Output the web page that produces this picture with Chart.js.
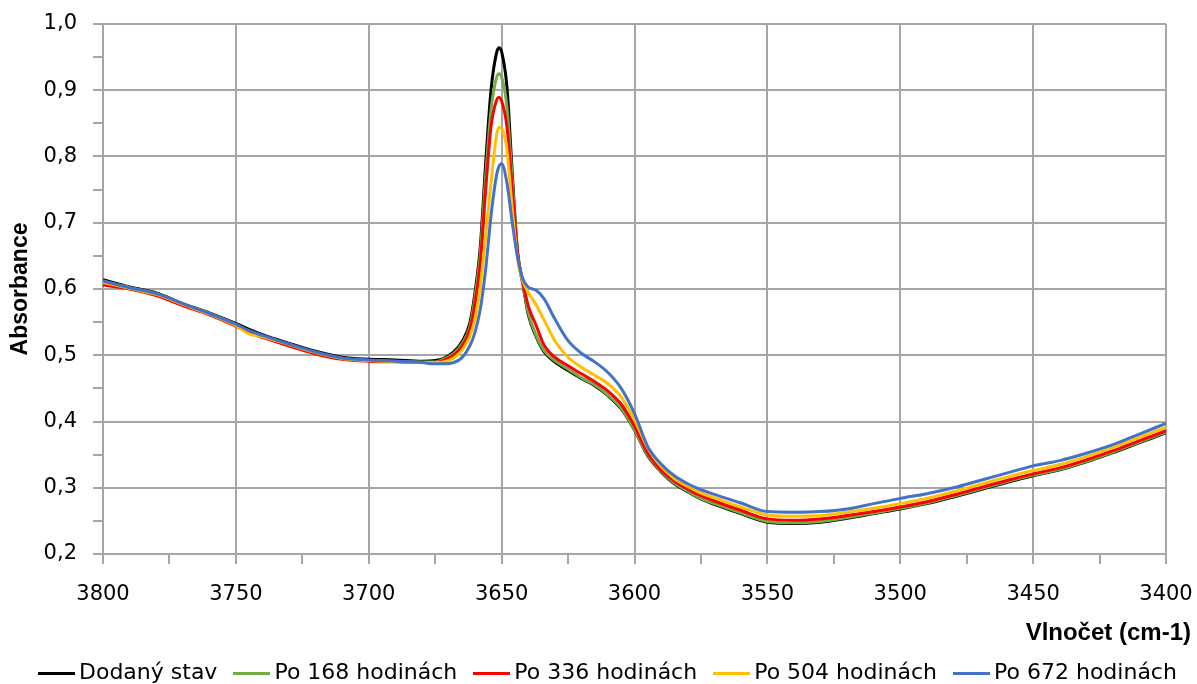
<!DOCTYPE html>
<html>
<head>
<meta charset="utf-8">
<script src="https://cdn.jsdelivr.net/npm/chart.js@4.4.0/dist/chart.umd.min.js"></script>
<style>
  html, body { margin: 0; padding: 0; background: #fff; }
  #wrap { width: 1197px; height: 684px; position: relative; overflow: hidden; }
  #xtitle {
    position: absolute; right: 6px; top: 618px; line-height: 24px;
    font: bold 24px 'Liberation Sans', Arial, sans-serif; color: #000; white-space: nowrap;
  }
  #legend {
    position: absolute; left: 38px; top: 659px; line-height: 22px;
    font: 22px 'DejaVu Sans', sans-serif; color: #000; white-space: nowrap;
  }
  .lg-item { display: inline-block; margin-right: 16px; }
  .lg-line { display: inline-block; width: 37px; height: 3px; margin-right: 4px; vertical-align: middle; }
</style>
</head>
<body>
<div id="wrap">
  <canvas id="chart"></canvas>
  <div id="xtitle">Vlnočet (cm-1)</div>
  <div id="legend"></div>
</div>
<script>
// vlnočty (cm-1)
const wavenumbers = [3800, 3790, 3780, 3770, 3760, 3750, 3745, 3740, 3730, 3720,
  3710, 3700, 3690, 3680, 3675, 3672, 3668, 3665, 3662, 3660,
  3658, 3656, 3654, 3652, 3651, 3650, 3648, 3646, 3644, 3642,
  3640, 3637, 3634, 3630, 3625, 3620, 3615, 3610, 3605, 3600,
  3595, 3590, 3585, 3580, 3575, 3570, 3560, 3550, 3540, 3530,
  3520, 3510, 3500, 3490, 3480, 3470, 3460, 3450, 3440, 3430,
  3420, 3410, 3400];

const dodanyStav = [0.614, 0.603, 0.594, 0.578, 0.564, 0.548, 0.539, 0.531, 0.518, 0.506,
  0.497, 0.494, 0.493, 0.491, 0.492, 0.495, 0.505, 0.520, 0.548, 0.595,
  0.665, 0.790, 0.900, 0.955, 0.964, 0.958, 0.905, 0.775, 0.655, 0.607,
  0.562, 0.528, 0.505, 0.490, 0.477, 0.465, 0.454, 0.439, 0.419, 0.387,
  0.348, 0.324, 0.306, 0.294, 0.283, 0.275, 0.261, 0.248, 0.246, 0.248,
  0.254, 0.261, 0.268, 0.276, 0.286, 0.297, 0.308, 0.318, 0.327, 0.339,
  0.353, 0.368, 0.383];

const po168 = [0.612, 0.602, 0.593, 0.577, 0.563, 0.546, 0.536, 0.529, 0.516, 0.504,
  0.495, 0.492, 0.491, 0.490, 0.490, 0.494, 0.503, 0.517, 0.543, 0.588,
  0.655, 0.770, 0.870, 0.918, 0.925, 0.920, 0.875, 0.765, 0.655, 0.608,
  0.565, 0.530, 0.507, 0.492, 0.479, 0.466, 0.455, 0.440, 0.420, 0.388,
  0.349, 0.325, 0.307, 0.295, 0.284, 0.276, 0.262, 0.249, 0.247, 0.249,
  0.255, 0.262, 0.269, 0.277, 0.287, 0.298, 0.309, 0.319, 0.328, 0.340,
  0.354, 0.369, 0.384];

const po336 = [0.606, 0.600, 0.590, 0.575, 0.561, 0.544, 0.534, 0.527, 0.514, 0.502,
  0.494, 0.491, 0.490, 0.489, 0.489, 0.492, 0.500, 0.513, 0.538, 0.578,
  0.640, 0.750, 0.845, 0.884, 0.889, 0.884, 0.845, 0.750, 0.655, 0.610,
  0.575, 0.545, 0.515, 0.497, 0.484, 0.472, 0.460, 0.446, 0.426, 0.393,
  0.352, 0.327, 0.310, 0.298, 0.288, 0.280, 0.266, 0.253, 0.251, 0.253,
  0.258, 0.264, 0.271, 0.279, 0.289, 0.300, 0.311, 0.321, 0.330, 0.342,
  0.356, 0.371, 0.386];

const po504 = [0.610, 0.601, 0.592, 0.577, 0.562, 0.545, 0.532, 0.528, 0.516, 0.504,
  0.495, 0.492, 0.490, 0.489, 0.489, 0.490, 0.496, 0.507, 0.528, 0.555,
  0.605, 0.680, 0.760, 0.830, 0.844, 0.842, 0.810, 0.720, 0.645, 0.612,
  0.595, 0.576, 0.553, 0.522, 0.497, 0.482, 0.470, 0.457, 0.437, 0.403,
  0.360, 0.332, 0.314, 0.302, 0.292, 0.285, 0.271, 0.259, 0.257, 0.258,
  0.263, 0.269, 0.276, 0.284, 0.294, 0.305, 0.316, 0.326, 0.335, 0.347,
  0.361, 0.376, 0.391];

const po672 = [0.612, 0.602, 0.593, 0.578, 0.563, 0.547, 0.537, 0.530, 0.517, 0.505,
  0.496, 0.493, 0.491, 0.489, 0.487, 0.487, 0.489, 0.496, 0.514, 0.535,
  0.570, 0.630, 0.710, 0.770, 0.785, 0.789, 0.760, 0.700, 0.648, 0.615,
  0.603, 0.598, 0.585, 0.555, 0.522, 0.503, 0.490, 0.474, 0.450, 0.412,
  0.362, 0.336, 0.318, 0.306, 0.297, 0.290, 0.277, 0.264, 0.263, 0.264,
  0.268, 0.276, 0.284, 0.291, 0.300, 0.311, 0.322, 0.333, 0.341, 0.352,
  0.365, 0.381, 0.397];

const seriesNames = ['Dodaný stav', 'Po 168 hodinách', 'Po 336 hodinách', 'Po 504 hodinách', 'Po 672 hodinách'];
const seriesColors = ['#000000', '#70ad47', '#ff0000', '#ffc000', '#4472c4'];
const seriesValues = [dodanyStav, po168, po336, po504, po672];

const TICK_FONT = { family: "'DejaVu Sans', sans-serif", size: 21 };
const GRID = '#a6a6a6';

const isMult = (v, step) => Math.abs(v / step - Math.round(v / step)) < 1e-6;

// legenda
document.getElementById('legend').innerHTML = seriesNames.map((n, i) =>
  `<span class="lg-item"><span class="lg-line" style="background:${seriesColors[i]}"></span>${n}</span>`
).join('');

const datasets = seriesValues.map((vals, i) => ({
  label: seriesNames[i],
  data: wavenumbers.map((w, j) => ({ x: w, y: vals[j] })),
  borderColor: seriesColors[i],
  backgroundColor: seriesColors[i],
  borderWidth: 3,
  pointRadius: 0,
  cubicInterpolationMode: 'monotone',
  order: 5 - i   // poslední série nahoře
}));

new Chart(document.getElementById('chart'), {
  type: 'line',
  data: { datasets },
  options: {
    responsive: true, maintainAspectRatio: false,
    animation: false,
    layout: { padding: { left: 0, right: 31, top: 24, bottom: 70 } },
    plugins: {
      tooltip: { enabled: false },
      legend: { display: false }
    },
    scales: {
      x: {
        type: 'linear', reverse: true, min: 3400, max: 3800,
        afterFit: s => { s.height = 60; s.paddingLeft = 0; s.paddingRight = 0; },
        ticks: {
          stepSize: 25, autoSkip: false, maxRotation: 0, padding: 18,
          color: '#000', font: TICK_FONT,
          callback: v => isMult(v, 50) ? String(v) : ''
        },
        grid: {
          color: c => isMult(c.tick.value, 50) ? GRID : 'transparent',
          tickColor: GRID, tickLength: 10, lineWidth: 2
        },
        border: { color: GRID, width: 2 }
      },
      y: {
        min: 0.2, max: 1.0,
        afterFit: s => { s.width = 103; s.paddingTop = 0; s.paddingBottom = 0; },
        ticks: {
          stepSize: 0.05, autoSkip: false, padding: 16,
          color: '#000', font: TICK_FONT,
          callback: v => isMult(v, 0.1) ? v.toFixed(1).replace('.', ',') : ''
        },
        grid: {
          color: c => isMult(c.tick.value, 0.1) ? GRID : 'transparent',
          tickColor: GRID, tickLength: 10, lineWidth: 2
        },
        border: { color: GRID, width: 2 },
        title: {
          display: true, text: 'Absorbance', color: '#000',
          font: { family: "'Liberation Sans', Arial, sans-serif", size: 23, weight: 'bold' },
          padding: { top: 7, bottom: 0 }
        }
      }
    }
  }
});
</script>
</body>
</html>
